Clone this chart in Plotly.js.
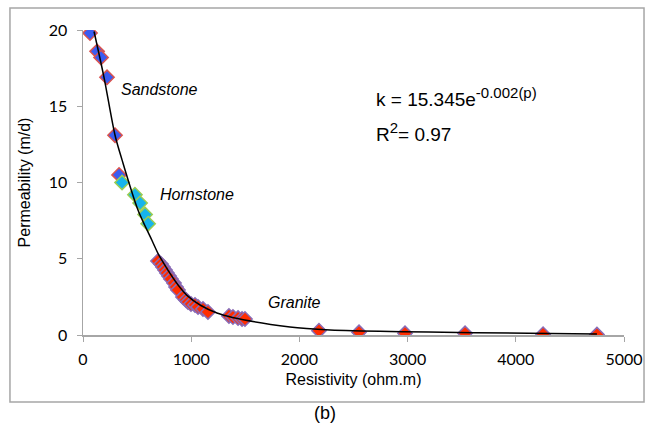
<!DOCTYPE html>
<html>
<head>
<meta charset="utf-8">
<script src="https://cdn.plot.ly/plotly-3.0.1.min.js"></script>
<style>html,body{margin:0;padding:0;background:#fff;}#chart{width:650px;height:430px;}</style>
</head>
<body>
<div id="chart"></div>
<script>
// Sandstone samples
const sandX = [65, 130, 167, 222, 296, 333];
const sandY = [19.8, 18.6, 18.2, 16.9, 13.1, 10.5];
// Hornstone samples
const hornX = [361, 480, 528, 574, 602];
const hornY = [10.0, 9.2, 8.65, 7.9, 7.3];
// Granite samples
const graniteX = [693, 721, 739, 758, 776, 795, 813, 841, 860, 878, 924, 952, 970, 998, 1035, 1063, 1109, 1155,
                  1349, 1386, 1433, 1470, 1497, 2181, 2551, 2976, 3531, 4252, 4750];
const graniteY = [4.85, 4.65, 4.46, 4.26, 4.07, 3.87, 3.67, 3.41, 3.15, 2.95, 2.49, 2.30, 2.16, 2.03, 1.97, 1.84, 1.70, 1.51,
                  1.25, 1.18, 1.11, 1.05, 1.05, 0.28, 0.18, 0.11, 0.11, 0.05, 0.03];
// Trend line
const trendX = [102, 194, 296, 360, 508, 638, 712, 961, 1238, 1913, 2283, 4750];
const trendY = [19.9, 16.9, 13.1, 11.5, 8.2, 6.2, 5.1, 2.6, 1.44, 0.52, 0.33, 0.07];
const xTicks = [0, 1000, 2000, 3000, 4000, 5000];
const yTicks = [0, 5, 10, 15, 20];

const mk = (fill, line) => ({symbol: 'diamond', size: 11, color: fill, line: {color: line, width: 1.5}});

const data = [
  {x: sandX, y: sandY, mode: 'markers', type: 'scatter', name: 'Sandstone', marker: mk('#3a5cf2', '#d9534f')},
  {x: hornX, y: hornY, mode: 'markers', type: 'scatter', name: 'Hornstone', marker: mk('#16b4ec', '#9acd52')},
  {x: graniteX, y: graniteY, mode: 'markers', type: 'scatter', name: 'Granite', marker: mk('#ff2d00', '#8a6bb5')},
  {x: trendX, y: trendY, mode: 'lines', type: 'scatter', name: 'trend', line: {color: '#000', width: 1.5, shape: 'spline', smoothing: 0.8}}
];

const arial = 'Liberation Sans, Arial, sans-serif';
const annFont = {family: arial, size: 16, color: '#000'};
const tickFont = {family: 'Lato, Open Sans, sans-serif', size: 16, color: '#000'};
const layout = {
  width: 650, height: 430,
  margin: {l: 83, r: 26, t: 30, b: 95},
  paper_bgcolor: '#fff', plot_bgcolor: '#fff',
  showlegend: false,
  xaxis: {
    range: [0, 5000], tickvals: xTicks, ticktext: xTicks.map(String),
    showgrid: false, zeroline: false, showline: true, linecolor: '#a6a6a6', linewidth: 1.5,
    ticks: 'outside', ticklen: 5, tickcolor: '#a6a6a6', tickwidth: 1, ticklabelstandoff: 4,
    tickfont: tickFont,
    title: {text: 'Resistivity (ohm.m)', font: {family: arial, size: 16, color: '#000'}, standoff: 7}
  },
  yaxis: {
    range: [0, 20], tickvals: yTicks, ticktext: yTicks.map(String),
    showgrid: false, zeroline: false, showline: true, linecolor: '#a6a6a6', linewidth: 1.5,
    ticks: 'outside', ticklen: 5, tickcolor: '#a6a6a6', tickwidth: 1, ticklabelstandoff: 6,
    tickfont: tickFont,
    title: {text: 'Permeability (m/d)', font: {family: arial, size: 16, color: '#000'}, standoff: 14}
  },
  annotations: [
    {x: 333, y: 16.1, xref: 'x', yref: 'y', text: '<i>Sandstone</i>', showarrow: false, xanchor: 'left', font: annFont},
    {x: 693, y: 9.2, xref: 'x', yref: 'y', text: '<i>Hornstone</i>', showarrow: false, xanchor: 'left', font: annFont},
    {x: 1691, y: 2.16, xref: 'x', yref: 'y', text: '<i>Granite</i>', showarrow: false, xanchor: 'left', font: annFont},
    {x: 2690, y: 15.6, xref: 'x', yref: 'y', text: 'k = 15.345e<sup><span style="font-size:15px">-0.002(p)</span></sup>', showarrow: false, xanchor: 'left', font: {family: arial, size: 19, color: '#000'}},
    {x: 2690, y: 13.3, xref: 'x', yref: 'y', text: 'R<sup><span style="font-size:15px">2</span></sup>= 0.97', showarrow: false, xanchor: 'left', font: {family: arial, size: 19, color: '#000'}},
    {x: 0.447, y: -0.256, xref: 'paper', yref: 'paper', text: '(b)', showarrow: false, xanchor: 'center', yanchor: 'middle', font: {family: arial, size: 18, color: '#000'}}
  ],
  shapes: [
    {type: 'rect', xref: 'paper', yref: 'paper', x0: -0.135, x1: 1.037, y0: -0.2197, y1: 1.072, line: {color: '#a6a6a6', width: 1.5}, fillcolor: 'rgba(0,0,0,0)'}
  ]
};

Plotly.newPlot('chart', data, layout, {displayModeBar: false, staticPlot: true});
</script>
</body>
</html>
